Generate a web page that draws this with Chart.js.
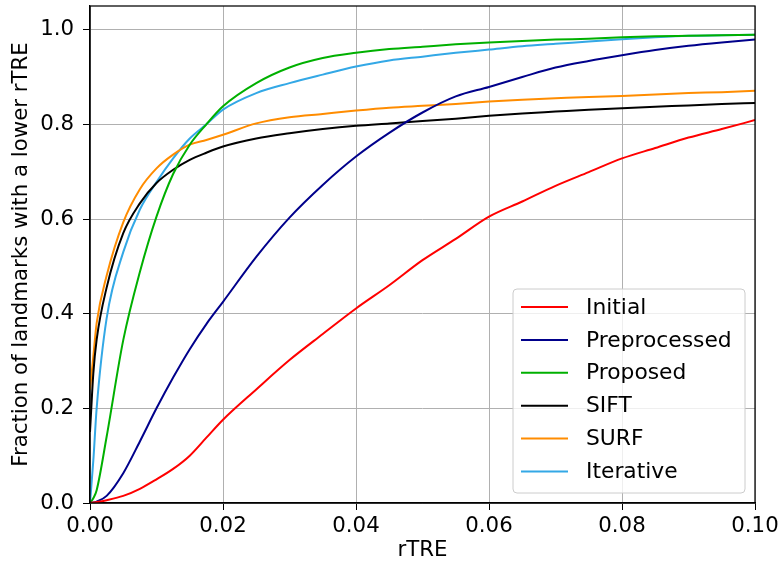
<!DOCTYPE html>
<html><head><meta charset="utf-8">
<script src="https://cdn.jsdelivr.net/npm/chart.js@4.4.1/dist/chart.umd.min.js"></script>
<style>html,body{margin:0;padding:0;background:#fff;}</style>
</head><body>
<canvas id="c" width="782" height="569"></canvas>
<script>
// rTRE thresholds (x values)
const rtre = [0, 0.0005, 0.001, 0.0025, 0.005, 0.0075, 0.01, 0.0125, 0.015, 0.0175, 0.02, 0.025, 0.03, 0.035, 0.04, 0.045, 0.05, 0.055, 0.06, 0.065, 0.07, 0.075, 0.08, 0.085, 0.09, 0.095, 0.1];
const seriesNames = ["Initial", "Preprocessed", "Proposed", "SIFT", "SURF", "Iterative"];
const initial      = [0, 0.001, 0.002, 0.006, 0.015, 0.03, 0.05, 0.072, 0.1, 0.138, 0.176, 0.24, 0.302, 0.357, 0.411, 0.46, 0.513, 0.558, 0.605, 0.637, 0.67, 0.699, 0.728, 0.75, 0.772, 0.79, 0.809];
const preprocessed = [0, 0.001, 0.003, 0.015, 0.063, 0.13, 0.2, 0.265, 0.325, 0.378, 0.425, 0.52, 0.603, 0.672, 0.732, 0.782, 0.825, 0.859, 0.879, 0.9, 0.92, 0.934, 0.946, 0.957, 0.966, 0.973, 0.979];
const proposed     = [0, 0.01, 0.027, 0.14, 0.344, 0.488, 0.605, 0.695, 0.757, 0.8, 0.838, 0.887, 0.92, 0.94, 0.951, 0.959, 0.964, 0.969, 0.973, 0.976, 0.979, 0.981, 0.984, 0.986, 0.987, 0.988, 0.989];
const sift         = [0.15, 0.274, 0.345, 0.455, 0.57, 0.633, 0.676, 0.704, 0.725, 0.74, 0.753, 0.77, 0.781, 0.79, 0.797, 0.802, 0.807, 0.812, 0.818, 0.823, 0.827, 0.831, 0.834, 0.837, 0.84, 0.843, 0.845];
const surf         = [0.24, 0.31, 0.38, 0.48, 0.593, 0.663, 0.707, 0.736, 0.757, 0.767, 0.778, 0.802, 0.815, 0.822, 0.829, 0.835, 0.839, 0.843, 0.848, 0.852, 0.855, 0.858, 0.86, 0.863, 0.866, 0.868, 0.871];
const iterative    = [0, 0.09, 0.2, 0.39, 0.53, 0.62, 0.678, 0.728, 0.77, 0.8, 0.831, 0.866, 0.887, 0.905, 0.922, 0.935, 0.943, 0.951, 0.958, 0.965, 0.97, 0.975, 0.98, 0.984, 0.987, 0.988, 0.989];
const seriesColors = ["#ff0000", "#00008b", "#00b000", "#000000", "#ff8c00", "#33a8e6"];
const xTicks = [0, 0.02, 0.04, 0.06, 0.08, 0.1];
const yTicks = [0, 0.2, 0.4, 0.6, 0.8, 1.0];

const allSeries = [initial, preprocessed, proposed, sift, surf, iterative];
const FONT = "'DejaVu Sans', sans-serif";
const FS = 21.3;

const datasets = allSeries.map((vals, i) => ({
  label: seriesNames[i],
  data: vals.map((v, j) => ({x: rtre[j], y: v})),
  borderColor: seriesColors[i],
  backgroundColor: seriesColors[i],
  borderWidth: 2,
  pointRadius: 0,
  fill: false,
  cubicInterpolationMode: 'monotone'
}));

const framePlugin = {
  id: 'frame',
  afterDatasetsDraw(chart) {
    const {ctx, chartArea: a} = chart;
    ctx.save();
    ctx.strokeStyle = '#000';
    ctx.lineWidth = 1.25;
    ctx.strokeRect(a.left, a.top, a.right - a.left, a.bottom - a.top);
    ctx.restore();
  }
};

const legendPlugin = {
  id: 'innerLegend',
  afterDraw(chart) {
    const {ctx, chartArea: a} = chart;
    const w = 232, h = 204;
    const x0 = a.right - 10 - w, y0 = a.bottom - 10 - h;
    ctx.save();
    ctx.beginPath();
    const r = 4;
    ctx.moveTo(x0 + r, y0);
    ctx.arcTo(x0 + w, y0, x0 + w, y0 + h, r);
    ctx.arcTo(x0 + w, y0 + h, x0, y0 + h, r);
    ctx.arcTo(x0, y0 + h, x0, y0, r);
    ctx.arcTo(x0, y0, x0 + w, y0, r);
    ctx.closePath();
    ctx.fillStyle = 'rgba(255,255,255,0.8)';
    ctx.fill();
    ctx.strokeStyle = '#cccccc';
    ctx.lineWidth = 1;
    ctx.stroke();
    ctx.font = '21.8px ' + FONT;
    ctx.textBaseline = 'middle';
    ctx.textAlign = 'left';
    chart.data.datasets.forEach((ds, i) => {
      const yy = y0 + 18 + i * 32.9;
      ctx.strokeStyle = ds.borderColor;
      ctx.lineWidth = 2;
      ctx.beginPath();
      ctx.moveTo(x0 + 8, yy);
      ctx.lineTo(x0 + 55, yy);
      ctx.stroke();
      ctx.fillStyle = '#000';
      ctx.fillText(ds.label, x0 + 73, yy + 1);
    });
    ctx.restore();
  }
};

new Chart(document.getElementById('c'), {
  type: 'line',
  data: { datasets },
  options: {
    responsive: false,
    animation: false,
    layout: { padding: { left: 0, right: 27, top: 6, bottom: 0 } },
    plugins: { legend: { display: false }, tooltip: { enabled: false } },
    scales: {
      x: {
        type: 'linear',
        min: 0, max: 0.1,
        afterFit(s) { s.height = 66; s.paddingLeft = 0; s.paddingRight = 0; },
        afterBuildTicks(s) { s.ticks = xTicks.map(v => ({value: v})); },
        ticks: { font: { family: FONT, size: FS }, color: '#000', padding: 4, maxRotation: 0, autoSkip: false,
                 callback: v => Number(v).toFixed(2) },
        grid: { color: '#b0b0b0', lineWidth: 1, tickColor: '#000', tickLength: 7, drawTicks: true },
        border: { display: true, color: '#000', width: 1.25 },
        title: { display: true, text: 'rTRE', font: { family: FONT, size: FS }, color: '#000', padding: { top: 0, bottom: 6 } }
      },
      y: {
        type: 'linear',
        min: 0, max: 1.05,
        afterFit(s) { s.width = 90; s.paddingTop = 0; s.paddingBottom = 0; },
        afterBuildTicks(s) { s.ticks = yTicks.map(v => ({value: v})); },
        ticks: { font: { family: FONT, size: FS }, color: '#000', padding: 9, autoSkip: false,
                 callback: v => Number(v).toFixed(1) },
        grid: { color: '#b0b0b0', lineWidth: 1, tickColor: '#000', tickLength: 7, drawTicks: true },
        border: { display: true, color: '#000', width: 1.25 },
        title: { display: true, text: 'Fraction of landmarks with a lower rTRE', font: { family: FONT, size: FS }, color: '#000', padding: { top: 9, bottom: 0 } }
      }
    }
  },
  plugins: [framePlugin, legendPlugin]
});
</script>
</body></html>
